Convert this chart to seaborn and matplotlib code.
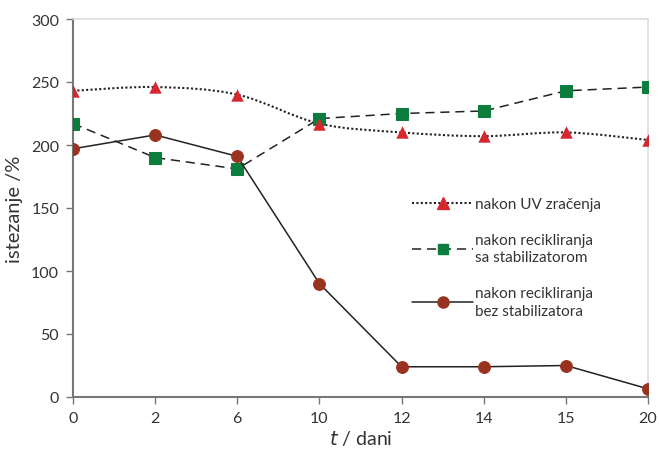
import matplotlib
matplotlib.use("Agg")
import matplotlib.pyplot as plt
from matplotlib.path import Path
from matplotlib.patches import PathPatch
from matplotlib.lines import Line2D
import seaborn as sns
import numpy as np
import pandas as pd

days = ["0", "2", "6", "10", "12", "14", "15", "20"]
uv = [243, 246, 240, 217, 210, 207, 210, 204]
sa_stab = [217, 190, 181, 221, 225, 227, 243, 246]
bez_stab = [197, 208, 191, 90, 24, 24, 25, 6.5]
labels = ["nakon UV zračenja", "nakon recikliranja\nsa stabilizatorom", "nakon recikliranja\nbez stabilizatora"]
yticks = [0, 50, 100, 150, 200, 250, 300]

sns.set_theme(style="white")
plt.rcParams['font.family'] = ['Lato', 'DejaVu Sans']

red = "#d6262e"
green = "#0b7e3e"
brown = "#9a3220"
txt = "#333333"

fig = plt.figure(figsize=(6.59, 4.52), dpi=100)
ax = fig.add_axes([73/659, 1-398/452, (648-73)/659, (398-20)/452])

idx = np.arange(len(days))
df = pd.DataFrame({"idx": idx, "uv": uv, "sa": sa_stab, "bez": bez_stab})

# smoothed dotted line for UV (Catmull-Rom -> Bezier)
pts = np.column_stack([idx, uv]).astype(float)
verts = [pts[0]]
codes = [Path.MOVETO]
n = len(pts)
for i in range(n - 1):
    p0 = pts[i - 1] if i > 0 else pts[i]
    p1 = pts[i]
    p2 = pts[i + 1]
    p3 = pts[i + 2] if i + 2 < n else pts[i + 1]
    c1 = p1 + (p2 - p0) / 6.0
    c2 = p2 - (p3 - p1) / 6.0
    verts += [c1, c2, p2]
    codes += [Path.CURVE4] * 3
patch = PathPatch(Path(verts, codes), fill=False, edgecolor="#222222", lw=1.5,
                  linestyle=(0, (1, 1.1)), zorder=2)
ax.add_patch(patch)

sns.lineplot(data=df, x="idx", y="sa", ax=ax, color="#222222", lw=1.1,
             linestyle=(0, (6, 3.8)), marker="s", markersize=8,
             markerfacecolor=green, markeredgecolor=green, zorder=3)
sns.lineplot(data=df, x="idx", y="bez", ax=ax, color="#222222", lw=1.1,
             marker="o", markersize=8.5,
             markerfacecolor=brown, markeredgecolor=brown, zorder=3)
sns.scatterplot(data=df, x="idx", y="uv", ax=ax, color=red, marker="^", s=80,
                edgecolor=red, linewidth=0, zorder=4)

ax.set_xlim(0, len(days) - 1)
ax.set_ylim(0, 300)
ax.set_xticks(idx)
ax.set_xticklabels(days)
ax.set_yticks(yticks)
ax.tick_params(axis="both", which="both", direction="out", length=5, width=1,
               color="#777777", labelsize=11.5, labelcolor=txt, pad=5, left=True, bottom=True)
for s in ["left", "bottom"]:
    ax.spines[s].set_color("#777777")
    ax.spines[s].set_linewidth(1.5)
for s in ["top", "right"]:
    ax.spines[s].set_color("#dddddd")
    ax.spines[s].set_linewidth(1.2)

ax.set_ylabel("istezanje /%", fontsize=14.5, color=txt, labelpad=6)
ax.set_xlabel("$\\it{t}$ / dani", fontsize=14, color=txt, labelpad=2)

handles = [
    Line2D([], [], color="#222222", lw=1.5, linestyle=(0, (1, 1.1)), marker="^",
           markersize=8, markerfacecolor=red, markeredgecolor=red),
    Line2D([], [], color="#222222", lw=1.1, linestyle=(0, (6, 3.8)), marker="s",
           markersize=7.5, markerfacecolor=green, markeredgecolor=green),
    Line2D([], [], color="#222222", lw=1.1, marker="o",
           markersize=8, markerfacecolor=brown, markeredgecolor=brown),
]
leg = ax.legend(handles, labels, loc="upper left", bbox_to_anchor=(333/575, 1-(192-20)/378),
                frameon=False, fontsize=11, handlelength=4.0, handletextpad=0.1,
                labelspacing=1.4, borderaxespad=0)
for t in leg.get_texts():
    t.set_color(txt)
    t.set_linespacing(1.35)

fig.savefig("out.png", dpi=100)
